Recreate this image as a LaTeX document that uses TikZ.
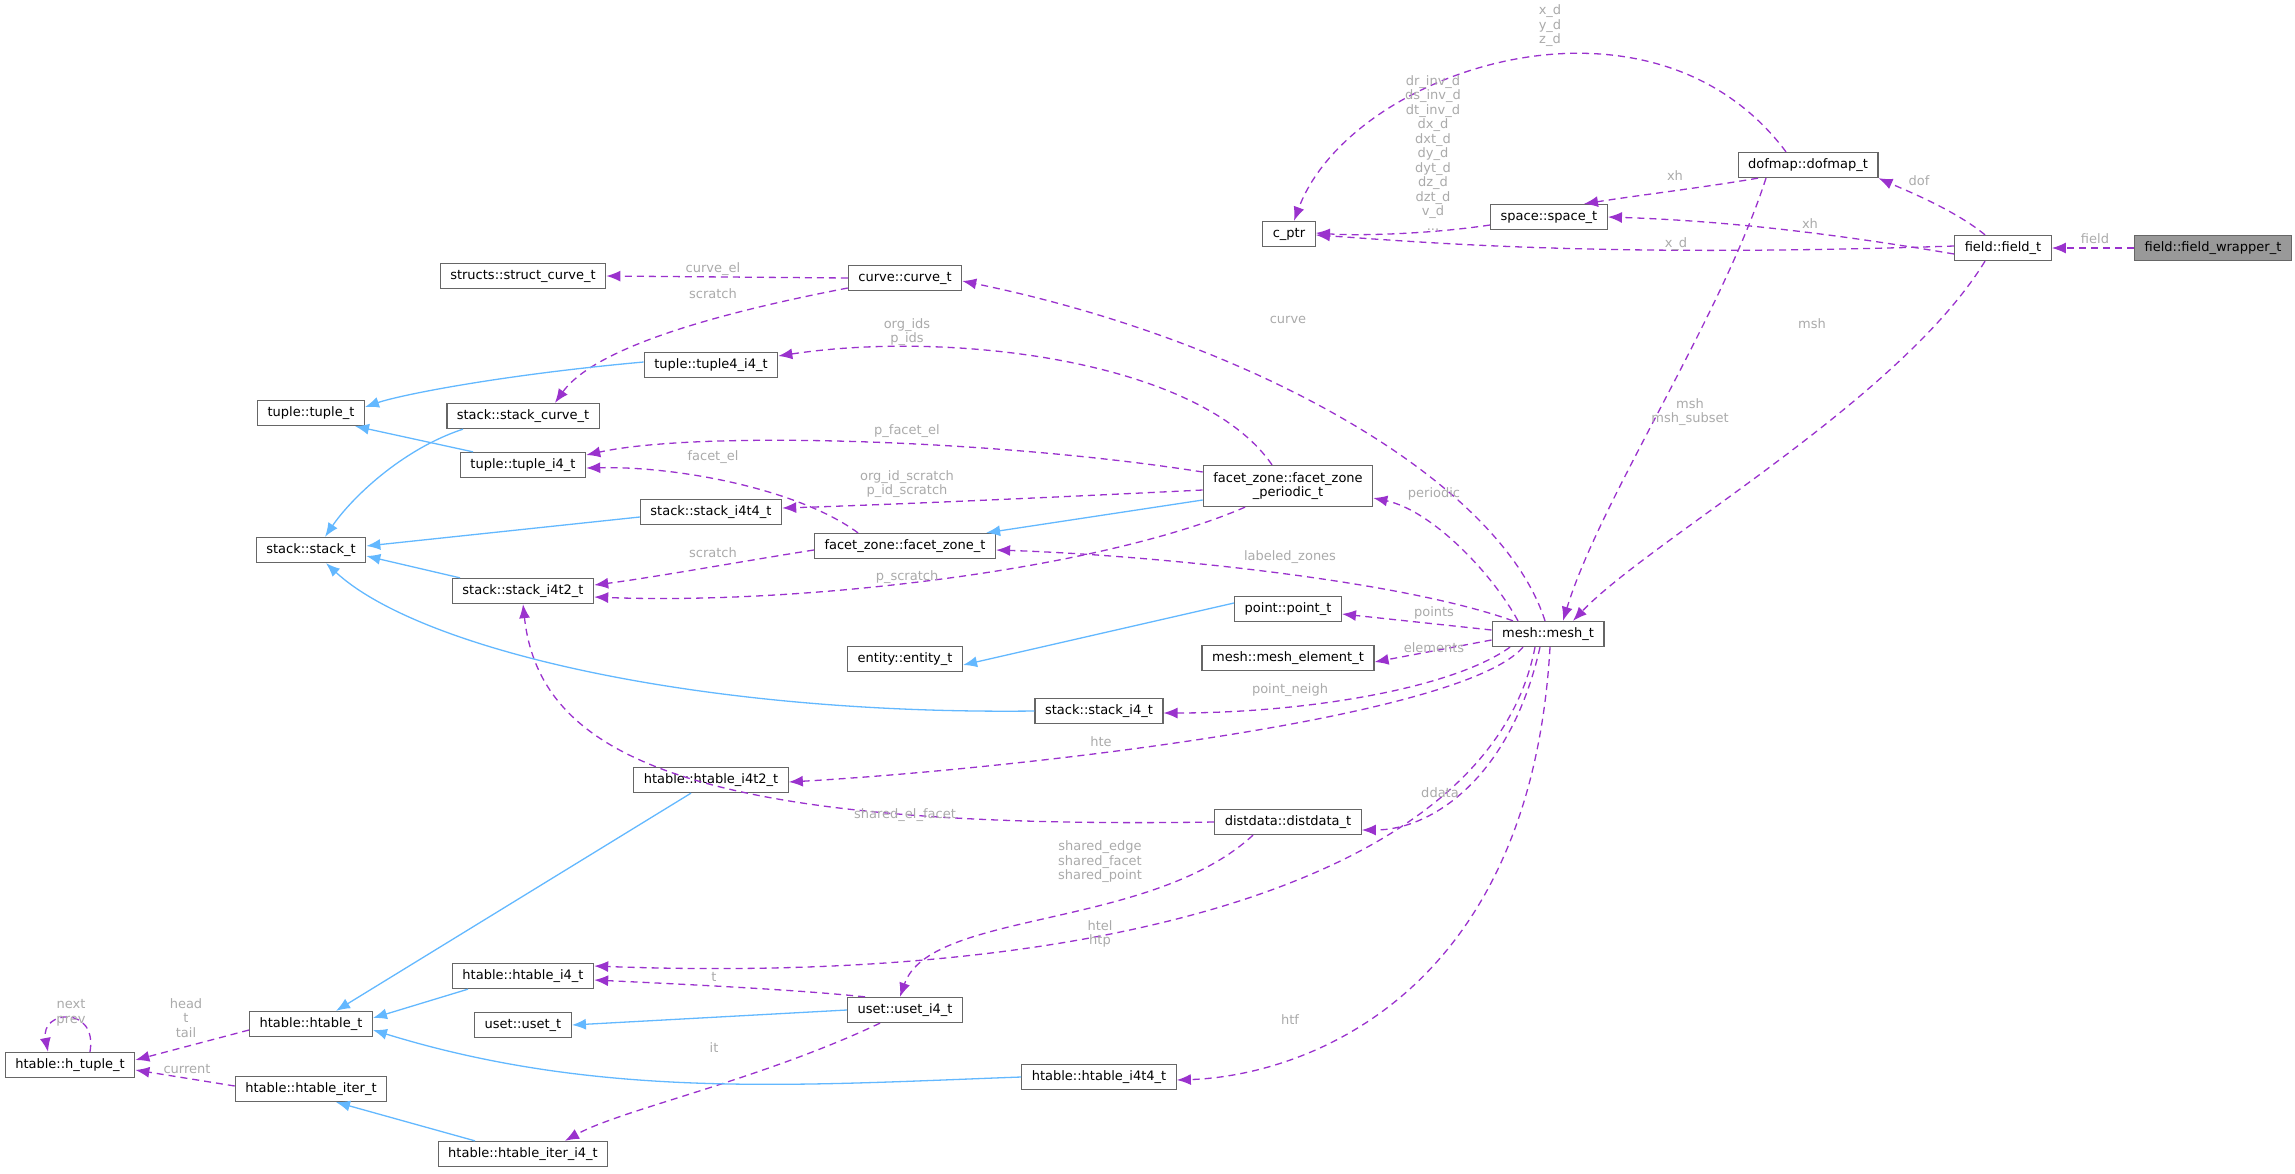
\documentclass[tikz,border=0pt]{standalone}
\usepackage{fontspec}
\setmainfont{DejaVu Sans}
\usetikzlibrary{arrows.meta}
\definecolor{dep}{HTML}{9A32CD}
\definecolor{inh}{HTML}{63B8FF}
\definecolor{lab}{HTML}{AAAAAA}
\definecolor{brd}{HTML}{666666}
\definecolor{sel}{HTML}{999999}
\begin{document}
\begin{tikzpicture}[x=1pt,y=-1pt,
 box/.style={draw=brd,line width=1.3pt,fill=white,minimum height=25pt,inner xsep=10pt,inner ysep=2pt,font=\fontsize{13}{15}\selectfont},
 dep/.style={draw=dep,line width=1.3pt,dash pattern=on 7pt off 5pt,-{Latex[length=14pt,width=11pt]}},
 inh/.style={draw=inh,line width=1.3pt,-{Latex[length=14pt,width=11pt]}},
 lb/.style={text=lab,font=\fontsize{13}{14.5}\selectfont,align=center,inner sep=0pt}]
\useasboundingbox (0,0) rectangle (2295,1173);
% nodes
\node[box,fill=sel] (fw) at (2213,248) {field::field\_wrapper\_t};
\node[box] (ft) at (2003,248) {field::field\_t};
\node[box] (dof) at (1808,165) {dofmap::dofmap\_t};
\node[box] (sp) at (1549,217) {space::space\_t};
\node[box] (cp) at (1289,234) {c\_ptr};
\node[box] (cu) at (905,278) {curve::curve\_t};
\node[box] (sc) at (523,276) {structs::struct\_curve\_t};
\node[box] (t44) at (711,365) {tuple::tuple4\_i4\_t};
\node[box] (tt) at (311,413) {tuple::tuple\_t};
\node[box] (scv) at (523,416) {stack::stack\_curve\_t};
\node[box] (ti4) at (523,465) {tuple::tuple\_i4\_t};
\node[box,minimum height=41pt,font=\fontsize{13}{14.5}\selectfont,align=center] (fzp) at (1288,486) {facet\_zone::facet\_zone\\\_periodic\_t};
\node[box] (s44) at (711,512) {stack::stack\_i4t4\_t};
\node[box] (st) at (311,550) {stack::stack\_t};
\node[box] (fz) at (905,546) {facet\_zone::facet\_zone\_t};
\node[box] (s42) at (523,591) {stack::stack\_i4t2\_t};
\node[box] (pt) at (1288,609) {point::point\_t};
\node[box] (me) at (1548,634) {mesh::mesh\_t};
\node[box] (en) at (905,659) {entity::entity\_t};
\node[box] (mel) at (1288,658) {mesh::mesh\_element\_t};
\node[box] (si4) at (1099,711) {stack::stack\_i4\_t};
\node[box] (h42) at (711,780) {htable::htable\_i4t2\_t};
\node[box] (dd) at (1288,822) {distdata::distdata\_t};
\node[box] (hi4) at (523,976) {htable::htable\_i4\_t};
\node[box] (us) at (523,1025) {uset::uset\_t};
\node[box] (ui4) at (905,1010) {uset::uset\_i4\_t};
\node[box] (ht) at (311,1024) {htable::htable\_t};
\node[box] (htu) at (70,1065) {htable::h\_tuple\_t};
\node[box] (hit) at (311,1089) {htable::htable\_iter\_t};
\node[box] (h44) at (1099,1077) {htable::htable\_i4t4\_t};
\node[box] (hiti) at (523,1154) {htable::htable\_iter\_i4\_t};
% dependency edges
\draw[dep] (fw) -- (ft);
\coordinate (a1) at ([xshift=-18pt]ft.north);
\draw[dep] (a1) .. controls (1955,210) and (1905,190) .. (dof.south east);
\draw[dep] ([yshift=-6pt]ft.west) .. controls (1800,228) and (1700,220) .. (sp.east);
\draw[dep] ([yshift=2pt]ft.west) .. controls (1600,258) and (1420,242) .. ([yshift=-1pt]cp.east);
\coordinate (a2) at ([xshift=-18pt]ft.south);
\draw[dep] (a2) .. controls (1900,400) and (1650,540) .. ([xshift=25pt]me.north);
\draw[dep] ([xshift=-50pt]dof.south) .. controls (1700,188) and (1640,195) .. ([xshift=35pt]sp.north);
\draw[dep] ([xshift=-22pt]dof.north) .. controls (1650,-30) and (1350,70) .. ([xshift=5pt]cp.north);
\draw[dep] ([xshift=-42pt]dof.south) .. controls (1720,320) and (1600,500) .. ([xshift=15pt]me.north);
\draw[dep] ([yshift=-8pt]sp.west) .. controls (1430,234) and (1360,236) .. ([yshift=1pt]cp.east);
\draw[dep] ([xshift=-3pt]me.north) .. controls (1500,480) and (1250,340) .. ([yshift=-3pt]cu.east);
\draw[dep] (cu.west) -- (sc.east);
\draw[dep] ([yshift=-10pt]cu.west) .. controls (760,305) and (600,340) .. ([xshift=32pt]scv.north);
\draw[dep] ([xshift=-16pt]fzp.north) .. controls (1200,360) and (950,330) .. ([yshift=9pt]t44.east);
\draw[dep] ([yshift=14pt]fzp.west) .. controls (1000,440) and (700,430) .. ([yshift=10pt]ti4.east);
\draw[dep] ([yshift=-4pt]fzp.west) .. controls (1000,500) and (850,506) .. ([yshift=4pt]s44.east);
\draw[dep] ([xshift=-43pt]fzp.south) .. controls (1100,570) and (800,605) .. ([yshift=-6pt]s42.east);
\draw[inh] ([yshift=-14pt]fzp.west) -- ([xshift=-10pt]fz.north east);
\draw[dep] ([xshift=-47pt]fz.north) .. controls (800,490) and (680,466) .. ([yshift=-3pt]ti4.east);
\draw[dep] ([yshift=-4pt]fz.west) .. controls (750,560) and (650,578) .. ([yshift=6pt]s42.east);
\draw[dep] ([xshift=-30pt]me.north) .. controls (1490,570) and (1430,510) .. ([yshift=-12pt]fzp.east);
\draw[dep] ([xshift=-35pt]me.north) .. controls (1400,580) and (1150,555) .. ([yshift=-4pt]fz.east);
\draw[dep] ([yshift=4pt]me.west) -- ([yshift=-5pt]pt.east);
\draw[dep] ([yshift=-6pt]me.west) -- ([yshift=-4pt]mel.east);
\draw[dep] ([xshift=-38pt]me.south) .. controls (1450,690) and (1300,713) .. ([yshift=-2pt]si4.east);
\draw[dep] ([xshift=-25pt]me.south) .. controls (1460,720) and (1000,770) .. ([yshift=-2pt]h42.east);
\draw[dep] ([xshift=-8pt]me.south) .. controls (1510,780) and (1430,830) .. ([yshift=-8pt]dd.east);
\draw[dep] ([xshift=-13pt]me.south) .. controls (1490,880) and (1100,985) .. ([yshift=10pt]hi4.east);
\draw[dep] ([xshift=2pt]me.south) .. controls (1530,1000) and (1300,1076) .. ([yshift=-3pt]h44.east);
\draw[dep] (dd.west) .. controls (700,830) and (540,760) .. (s42.south);
\draw[dep] ([xshift=-35pt]dd.south) .. controls (1150,930) and (930,910) .. ([xshift=-5pt]ui4.north);
\draw[dep] ([xshift=-40pt]ui4.north) .. controls (800,990) and (700,985) .. ([yshift=-4pt]hi4.east);
\draw[dep] ([xshift=-25pt]ui4.south) .. controls (760,1080) and (620,1110) .. ([xshift=42pt]hiti.north);
\draw[dep] ([yshift=-6pt]ht.west) -- ([yshift=5pt]htu.east);
\draw[dep] ([yshift=3pt]hit.west) -- ([yshift=-5pt]htu.east);
\draw[dep] ([xshift=20pt]htu.north) .. controls (98,1005) and (40,1010) .. ([xshift=-22pt]htu.north);
% inheritance edges
\draw[inh] ([yshift=3pt]t44.west) .. controls (500,375) and (400,395) .. ([yshift=6pt]tt.east);
\draw[inh] ([xshift=-50pt]ti4.north) -- ([xshift=-10pt]tt.south east);
\draw[inh] ([xshift=-60pt]scv.south) .. controls (400,450) and (350,500) .. ([xshift=14pt]st.north);
\draw[inh] ([yshift=-5pt]s44.west) -- ([yshift=4pt]st.east);
\draw[inh] ([xshift=-63pt]s42.north) -- ([yshift=-6pt]st.east);
\draw[inh] (si4.west) .. controls (700,715) and (420,650) .. ([xshift=15pt]st.south);
\draw[inh] ([yshift=6pt]pt.west) -- ([yshift=-6pt]en.east);
\draw[inh] ([xshift=-20pt]h42.south) -- ([xshift=25pt]ht.north);
\draw[inh] ([xshift=-55pt]hi4.south) -- ([yshift=6pt]ht.east);
\draw[inh] (ui4.west) -- (us.east);
\draw[inh] (h44.west) .. controls (800,1085) and (600,1100) .. ([yshift=-6pt]ht.east);
\draw[inh] ([xshift=-48pt]hiti.north) -- ([xshift=25pt]hit.south);
% labels
\node[lb] (l1) at (2095,239) {field};
\node[lb] (l2) at (1919,181) {dof};
\node[lb] (l3) at (1810,224) {xh};
\node[lb] (l4) at (1676,244) {x\_d};
\node[lb] (l5) at (1675,176) {xh};
\node[lb] (l6) at (1550,26) {x\_d\\y\_d\\z\_d};
\node[lb] (l7) at (1433,153) {dr\_inv\_d\\ds\_inv\_d\\dt\_inv\_d\\dx\_d\\dxt\_d\\dy\_d\\dyt\_d\\dz\_d\\dzt\_d\\v\_d\\...};
\node[lb] (l8) at (1690,412) {msh\\msh\_subset};
\node[lb] (l9) at (1812,324) {msh};
\node[lb] (l10) at (1288,320) {curve};
\node[lb] (l11) at (713,269) {curve\_el};
\node[lb] (l12) at (713,294) {scratch};
\node[lb] (l13) at (907,332) {org\_ids\\p\_ids};
\node[lb] (l14) at (907,431) {p\_facet\_el};
\node[lb] (l15) at (713,457) {facet\_el};
\node[lb] (l16) at (907,484) {org\_id\_scratch\\p\_id\_scratch};
\node[lb] (l17) at (713,553) {scratch};
\node[lb] (l18) at (907,577) {p\_scratch};
\node[lb] (l19) at (1434,494) {periodic};
\node[lb] (l20) at (1290,557) {labeled\_zones};
\node[lb] (l21) at (1434,613) {points};
\node[lb] (l22) at (1434,648) {elements};
\node[lb] (l23) at (1290,690) {point\_neigh};
\node[lb] (l24) at (1101,742) {hte};
\node[lb] (l25) at (1440,793) {ddata};
\node[lb] (l26) at (905,815) {shared\_el\_facet};
\node[lb] (l27) at (1100,862) {shared\_edge\\shared\_facet\\shared\_point};
\node[lb] (l28) at (1100,934) {htel\\htp};
\node[lb] (l29) at (1290,1020) {htf};
\node[lb] (l30) at (714,977) {t};
\node[lb] (l31) at (714,1048) {it};
\node[lb] (l32) at (186,1018) {head\\t\\tail};
\node[lb] (l33) at (71,1013) {next\\prev};
\node[lb] (l34) at (187,1069) {current};
\end{tikzpicture}
\end{document}
